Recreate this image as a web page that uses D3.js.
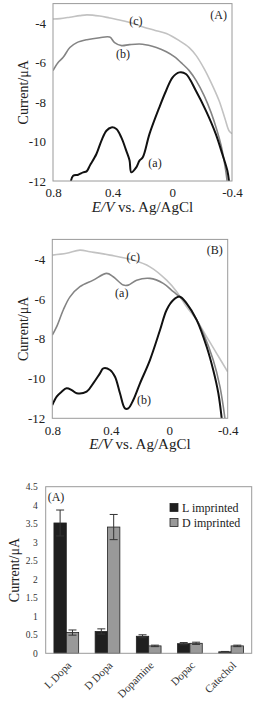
<!DOCTYPE html>
<html>
<head>
<meta charset="utf-8">
<script src="https://cdnjs.cloudflare.com/ajax/libs/d3/7.8.5/d3.min.js"></script>
<style>
body { margin: 0; background: #fff; }
svg { display: block; font-family: "Liberation Serif", "Times New Roman", serif; }
</style>
</head>
<body>
<div id="chart-area"></div>
<script>

// ---- data ----

let potentialTicks = [0.8, 0.4, 0, -0.4];
let currentTicks = [-12, -10, -8, -6, -4];

// panel (A) voltammograms, [E (V), I (uA)]
let cvA_a = [[0.68,-12],[0.665,-11.73],[0.631,-11.68],[0.598,-11.56],[0.575,-11.51],[0.553,-11.22],
  [0.509,-10.63],[0.475,-9.95],[0.442,-9.45],[0.409,-9.28],[0.375,-9.36],[0.342,-9.79],[0.309,-10.46],
  [0.287,-10.95],[0.275,-11.56],[0.242,-11.31],[0.22,-10.97],[0.198,-10.8],[0.153,-9.61],[0.087,-8.26],
  [0.042,-7.42],[-0.002,-6.74],[-0.047,-6.49],[-0.091,-6.57],[-0.158,-7.42],[-0.225,-8.43],
  [-0.291,-9.61],[-0.335,-10.63],[-0.369,-11.48],[-0.38,-12]];
let cvA_b = [[0.8,-6.4],[0.767,-6.0],[0.733,-5.74],[0.687,-5.23],[0.64,-4.98],[0.573,-4.83],[0.487,-4.73],
  [0.42,-4.7],[0.387,-4.98],[0.34,-5.13],[0.287,-5.08],[0.2,-5.06],[0.107,-5.23],[0.04,-5.44],
  [-0.013,-5.69],[-0.067,-6.05],[-0.113,-6.4],[-0.16,-6.91],[-0.213,-7.67],[-0.26,-8.53],[-0.3,-9.45],
  [-0.327,-10.2],[-0.347,-10.97],[-0.36,-11.58],[-0.367,-12]];
let cvA_c = [[0.8,-3.78],[0.753,-3.76],[0.687,-3.69],[0.62,-3.61],[0.573,-3.57],[0.487,-3.63],[0.42,-3.73],
  [0.34,-3.86],[0.267,-4.0],[0.2,-4.17],[0.12,-4.35],[0.04,-4.52],[-0.047,-4.88],[-0.113,-5.23],
  [-0.16,-5.64],[-0.213,-6.3],[-0.26,-7.01],[-0.313,-7.92],[-0.353,-8.84],[-0.38,-9.45],[-0.4,-9.6]];

// panel (B) voltammograms
let cvB_a = [[0.8,-7.81],[0.77,-7.39],[0.725,-6.55],[0.679,-5.89],[0.611,-5.38],[0.52,-5.05],[0.428,-4.71],
  [0.383,-4.88],[0.314,-5.3],[0.28,-5.3],[0.223,-5.05],[0.132,-4.96],[0.041,-5.21],[-0.028,-5.63],
  [-0.096,-6.05],[-0.164,-6.72],[-0.233,-7.73],[-0.301,-9.07],[-0.347,-10.41],[-0.381,-12]];
let cvB_b = [[0.8,-11.33],[0.77,-10.91],[0.736,-10.66],[0.702,-10.49],[0.667,-10.58],[0.633,-10.74],
  [0.565,-10.66],[0.52,-10.24],[0.474,-9.74],[0.451,-9.49],[0.405,-9.57],[0.371,-9.91],[0.337,-10.74],
  [0.303,-11.5],[0.28,-11.5],[0.246,-11.08],[0.2,-10.24],[0.132,-9.07],[0.063,-7.56],[0.018,-6.55],
  [-0.028,-6.05],[-0.073,-5.88],[-0.119,-6.22],[-0.188,-7.06],[-0.256,-8.4],[-0.301,-9.57],
  [-0.336,-10.74],[-0.359,-12]];
let cvB_c = [[0.8,-3.79],[0.702,-3.7],[0.611,-3.54],[0.542,-3.62],[0.405,-3.79],[0.246,-4.04],[0.132,-4.38],
  [0.018,-5.05],[-0.051,-5.63],[-0.119,-6.39],[-0.188,-7.06],[-0.256,-7.9],[-0.324,-8.73],[-0.4,-9.66]];

// curve labels [text, E, I]
let labelsA = [["(c)",0.244,-4.09],["(b)",0.331,-5.74],["(a)",0.116,-11.29]];
let labelsB = [["(c)",0.246,-4.09],["(a)",0.325,-5.92],["(b)",0.173,-11.28]];

// bar chart
let compounds = ["L Dopa", "D Dopa", "Dopamine", "Dopac", "Catechol"];
let sensors = ["L imprinted", "D imprinted"];
let lImprinted = [3.52, 0.59, 0.46, 0.26, 0.04];
let lError = [0.35, 0.07, 0.04, 0.03, 0.01];
let dImprinted = [0.56, 3.41, 0.20, 0.27, 0.20];
let dError = [0.07, 0.34, 0.02, 0.03, 0.02];
let barTicks = [0, 0.5, 1, 1.5, 2, 2.5, 3, 3.5, 4, 4.5];

// ---- svg ----

let svg = d3.select("#chart-area").append("svg")
    .attr("width", 266)
    .attr("height", 702);

let frameColor = "#9a9a9a";
let lineColor = {dark: "#111", mid: "#848484", light: "#c2c2c2"};

function drawCV(id, xRange, yRange, curves, labels, tag) {
  let x = d3.scaleLinear().domain([0.8, -0.4]).range(xRange);
  let y = d3.scaleLinear().domain([-12, -3]).range(yRange);
  let g = svg.append("g").attr("class", "cv-" + id);

  g.append("clipPath").attr("id", "clip-" + id)
    .append("rect")
    .attr("x", xRange[0]).attr("y", yRange[1])
    .attr("width", xRange[1] - xRange[0]).attr("height", yRange[0] - yRange[1]);

  let line = d3.line()
      .x(d => x(d[0]))
      .y(d => y(d[1]))
      .curve(d3.curveCatmullRom.alpha(0.5));

  g.selectAll(".curve")
    .data(curves)
    .enter().append("path")
    .attr("class", "curve")
    .attr("clip-path", "url(#clip-" + id + ")")
    .attr("d", d => line(d.values))
    .attr("fill", "none")
    .attr("stroke", d => lineColor[d.tone])
    .attr("stroke-width", d => d.tone == "dark" ? 2 : 1.6)
    .attr("stroke-linejoin", "round");

  // frame
  g.append("rect")
    .attr("x", xRange[0]).attr("y", yRange[1])
    .attr("width", xRange[1] - xRange[0]).attr("height", yRange[0] - yRange[1])
    .attr("fill", "none").attr("stroke", frameColor).attr("stroke-width", 1);

  let xAxis = d3.axisBottom(x).tickValues(potentialTicks).tickSize(0).tickPadding(7)
      .tickFormat(d => String(d));
  let yAxis = d3.axisLeft(y).tickValues(currentTicks).tickSize(0).tickPadding(7)
      .tickFormat(d => String(d));

  let xg = g.append("g").attr("transform", "translate(0," + yRange[0] + ")").call(xAxis);
  let yg = g.append("g").attr("transform", "translate(" + xRange[0] + ",0)").call(yAxis);
  [xg, yg].forEach(a => {
    a.attr("font-family", null);
    a.select(".domain").remove();
    a.selectAll("text").attr("font-size", 13).attr("fill", "#222");
  });

  let midX = (xRange[0] + xRange[1]) / 2;
  let t = g.append("text")
    .attr("x", midX).attr("y", yRange[0] + 31)
    .attr("text-anchor", "middle").attr("font-size", 15).attr("fill", "#222");
  t.append("tspan").attr("font-style", "italic").text("E/V");
  t.append("tspan").text(" vs. Ag/AgCl");

  g.append("text")
    .attr("transform", "translate(28," + (yRange[0] + yRange[1]) / 2 + ") rotate(-90)")
    .attr("text-anchor", "middle").attr("font-size", 14).attr("fill", "#222")
    .text("Current/\u03BCA");

  g.append("text")
    .attr("x", xRange[1] - 5).attr("y", yRange[1] + 15)
    .attr("text-anchor", "end").attr("font-size", 12).attr("fill", "#222")
    .text(tag);

  g.selectAll(".lbl")
    .data(labels)
    .enter().append("text")
    .attr("class", "lbl")
    .attr("x", d => x(d[1])).attr("y", d => y(d[2]))
    .attr("text-anchor", "middle").attr("font-size", 12).attr("fill", "#222")
    .text(d => d[0]);
}

drawCV("A", [53, 232], [181, 3.6],
  [{tone: "light", values: cvA_c}, {tone: "mid", values: cvA_b}, {tone: "dark", values: cvA_a}],
  labelsA, "(A)");

drawCV("B", [52.3, 227.7], [418.3, 239.4],
  [{tone: "light", values: cvB_c}, {tone: "mid", values: cvB_a}, {tone: "dark", values: cvB_b}],
  labelsB, "(B)");

// ---- bar chart ----

let barLeft = 45.7, barRight = 251.7, barTop = 486.7, barBottom = 653.3;

let bx = d3.scaleBand()
    .domain(compounds)
    .range([barLeft, barRight])
    .paddingInner(0.4)
    .paddingOuter(0.2);

let bsub = d3.scaleBand()
    .domain(sensors)
    .range([0, bx.bandwidth()]);

let by = d3.scaleLinear()
    .domain([0, 4.5])
    .range([barBottom, barTop]);

let barFill = {"L imprinted": "#1f1f1f", "D imprinted": "#999"};

let barData = [];
compounds.forEach((c, i) => {
  barData.push({compound: c, sensor: sensors[0], value: lImprinted[i], err: lError[i]});
  barData.push({compound: c, sensor: sensors[1], value: dImprinted[i], err: dError[i]});
});

let bg = svg.append("g").attr("class", "bars");

bg.selectAll(".bar")
  .data(barData)
  .enter().append("rect")
  .attr("class", "bar")
  .attr("x", d => bx(d.compound) + bsub(d.sensor))
  .attr("y", d => by(d.value))
  .attr("width", bsub.bandwidth())
  .attr("height", d => barBottom - by(d.value))
  .attr("fill", d => barFill[d.sensor])
  .attr("stroke", "#222")
  .attr("stroke-width", 0.8);

// error bars
let eb = bg.selectAll(".err")
  .data(barData)
  .enter().append("g")
  .attr("class", "err")
  .attr("transform", d => "translate(" + (bx(d.compound) + bsub(d.sensor) + bsub.bandwidth() / 2) + ",0)");

eb.append("line")
  .attr("y1", d => by(d.value + d.err)).attr("y2", d => by(d.value - d.err))
  .attr("stroke", "#333").attr("stroke-width", 1);
eb.append("line")
  .attr("x1", -4).attr("x2", 4)
  .attr("y1", d => by(d.value + d.err)).attr("y2", d => by(d.value + d.err))
  .attr("stroke", "#333").attr("stroke-width", 1);
eb.append("line")
  .attr("x1", -4).attr("x2", 4)
  .attr("y1", d => by(d.value - d.err)).attr("y2", d => by(d.value - d.err))
  .attr("stroke", "#333").attr("stroke-width", 1);

bg.append("rect")
  .attr("x", barLeft).attr("y", barTop)
  .attr("width", barRight - barLeft).attr("height", barBottom - barTop)
  .attr("fill", "none").attr("stroke", frameColor).attr("stroke-width", 1);

let byAxis = d3.axisLeft(by).tickValues(barTicks).tickSize(0).tickPadding(8)
    .tickFormat(d => String(d));
let byG = bg.append("g").attr("transform", "translate(" + barLeft + ",0)").call(byAxis);
byG.attr("font-family", null);
byG.select(".domain").remove();
byG.selectAll("text").attr("font-size", 9.5).attr("fill", "#333");

let bxAxis = d3.axisBottom(bx).tickSize(0);
let bxG = bg.append("g").attr("transform", "translate(0," + barBottom + ")").call(bxAxis);
bxG.attr("font-family", null);
bxG.select(".domain").remove();
bxG.selectAll("text")
  .attr("font-size", 11).attr("fill", "#333")
  .attr("text-anchor", "end")
  .attr("dy", "0.35em").attr("y", 0)
  .attr("transform", "translate(3,10) rotate(-45)");

bg.append("text")
  .attr("transform", "translate(19," + (barTop + barBottom) / 2 + ") rotate(-90)")
  .attr("text-anchor", "middle").attr("font-size", 14).attr("fill", "#222")
  .text("Current/\u03BCA");

bg.append("text")
  .attr("x", barLeft + 2).attr("y", barTop + 14)
  .attr("font-size", 12).attr("fill", "#222")
  .text("(A)");

// legend
let legend = bg.selectAll(".legend")
  .data(sensors)
  .enter().append("g")
  .attr("class", "legend")
  .attr("transform", (d, i) => "translate(170," + (503.5 + i * 15) + ")");

legend.append("rect")
  .attr("width", 8).attr("height", 8)
  .attr("fill", d => barFill[d]).attr("stroke", "#222").attr("stroke-width", 0.8);
legend.append("text")
  .attr("x", 12).attr("y", 8)
  .attr("font-size", 12).attr("fill", "#222")
  .text(d => d);

</script>
</body>
</html>
